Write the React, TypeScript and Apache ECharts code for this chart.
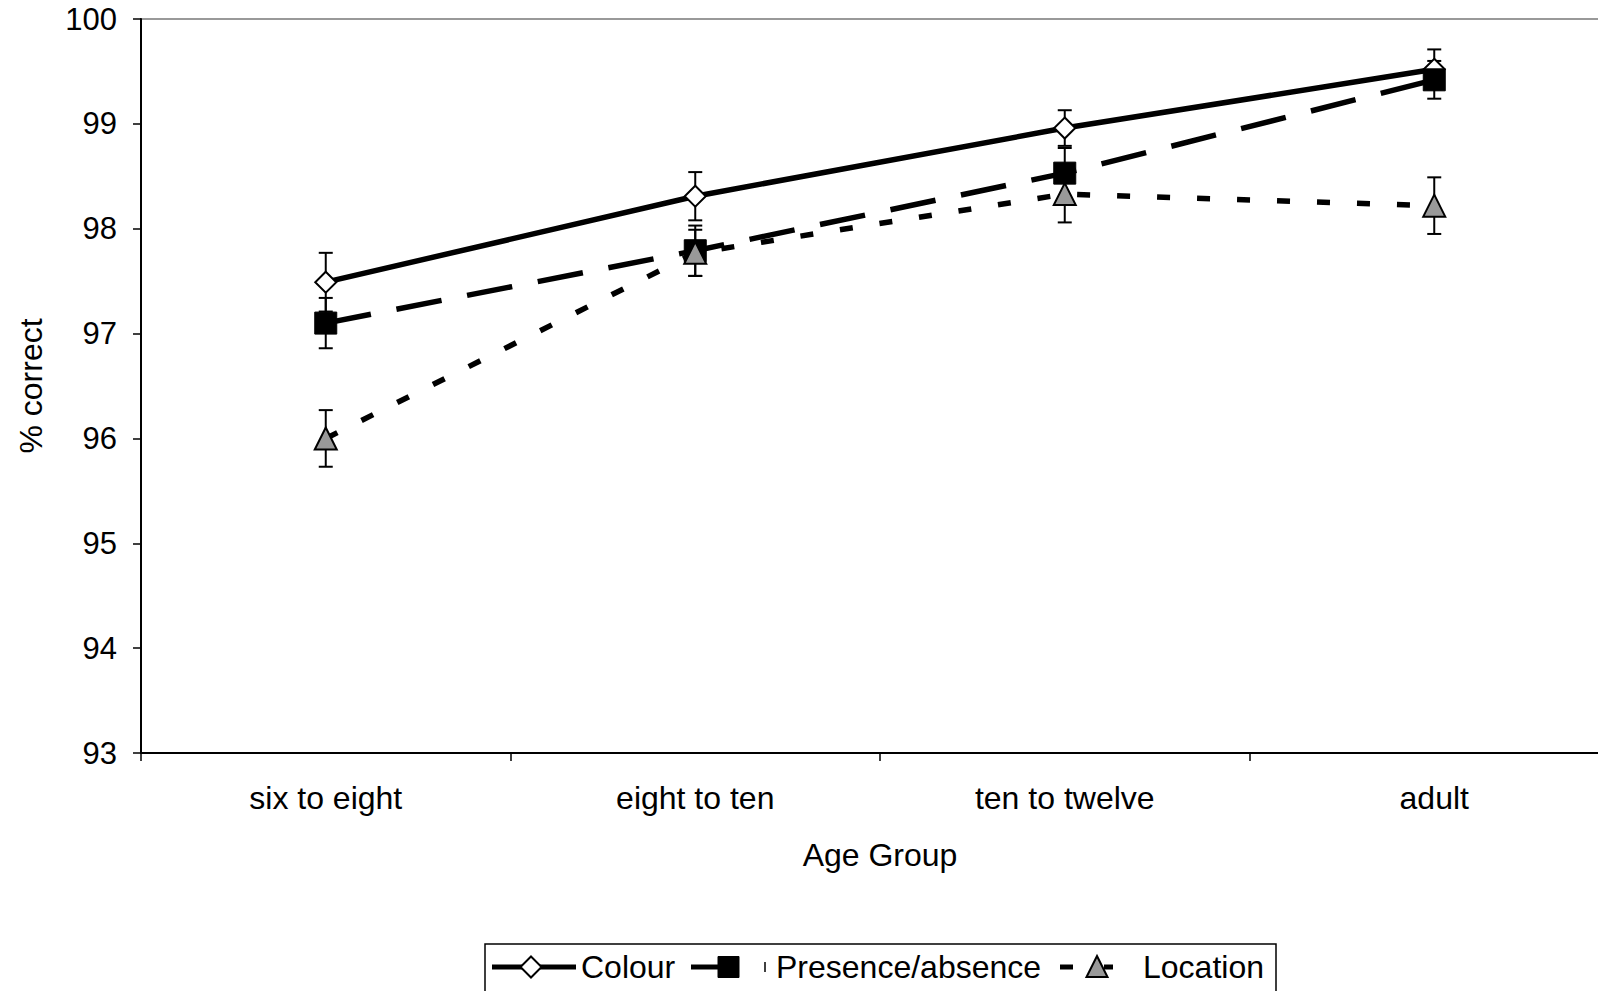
import React, { useEffect, useRef } from "react";
import * as echarts from "echarts";

const categories = ["six to eight", "eight to ten", "ten to twelve", "adult"];
const colourValues = [97.49, 98.31, 98.96, 99.52];
const colourErrors = [0.28, 0.23, 0.17, 0.19];
const presenceValues = [97.1, 97.79, 98.53, 99.42];
const presenceErrors = [0.24, 0.24, 0.24, 0.18];
const locationValues = [96.0, 97.77, 98.33, 98.22];
const locationErrors = [0.27, 0.22, 0.27, 0.27];
const yMin = 93;
const yMax = 100;
const yStep = 1;
const legendNames = ["Colour", "Presence/absence", "Location"];

const FONT = "'Liberation Sans', Arial, sans-serif";

function errorSeries(name: string, values: number[], errors: number[]) {
  return {
    type: "custom",
    name: name + " error",
    z: 1,
    silent: true,
    data: values.map((v, i) => [i, v - errors[i], v + errors[i]]),
    encode: { x: 0, y: [1, 2] },
    renderItem: (params: any, api: any) => {
      const x = api.value(0);
      const lo = api.coord([x, api.value(1)]);
      const hi = api.coord([x, api.value(2)]);
      const half = 7;
      const style = { stroke: "#000", lineWidth: 2, fill: "none" };
      return {
        type: "group",
        children: [
          { type: "line", shape: { x1: lo[0], y1: lo[1], x2: hi[0], y2: hi[1] }, style },
          { type: "line", shape: { x1: lo[0] - half, y1: lo[1], x2: lo[0] + half, y2: lo[1] }, style },
          { type: "line", shape: { x1: hi[0] - half, y1: hi[1], x2: hi[0] + half, y2: hi[1] }, style },
        ],
      };
    },
  };
}

function legendGraphics() {
  const cy = 967;
  const textStyle = (x: number, t: string) => ({
    type: "text",
    x,
    y: cy,
    style: { text: t, font: `32px ${FONT}`, fill: "#000", verticalAlign: "middle", align: "left" },
  });
  return [
    {
      type: "rect",
      shape: { x: 485, y: 944, width: 791, height: 60 },
      style: { fill: "#fff", stroke: "#000", lineWidth: 1.5 },
      z: 10,
    },
    { type: "line", shape: { x1: 492, y1: cy, x2: 576, y2: cy }, style: { stroke: "#000", lineWidth: 5 }, z: 11 },
    {
      type: "polygon",
      shape: { points: [[531, cy - 10.5], [541.5, cy], [531, cy + 10.5], [520.5, cy]] },
      style: { fill: "#fff", stroke: "#000", lineWidth: 2 },
      z: 12,
    },
    { ...textStyle(581, legendNames[0]), z: 12 },
    { type: "line", shape: { x1: 691, y1: cy, x2: 722, y2: cy }, style: { stroke: "#000", lineWidth: 5 }, z: 11 },
    { type: "rect", shape: { x: 718, y: cy - 10.5, width: 21, height: 21 }, style: { fill: "#000", stroke: "#000", lineWidth: 1 }, z: 12 },
    { type: "line", shape: { x1: 765, y1: cy - 5, x2: 765, y2: cy + 5 }, style: { stroke: "#000", lineWidth: 1.5 }, z: 11 },
    { ...textStyle(776, legendNames[1]), z: 12 },
    { type: "line", shape: { x1: 1060, y1: cy, x2: 1073, y2: cy }, style: { stroke: "#000", lineWidth: 5 }, z: 11 },
    { type: "line", shape: { x1: 1104, y1: cy, x2: 1113, y2: cy }, style: { stroke: "#000", lineWidth: 5 }, z: 11 },
    {
      type: "polygon",
      shape: { points: [[1097, cy - 11], [1107.5, cy + 10], [1086.5, cy + 10]] },
      style: { fill: "#999", stroke: "#000", lineWidth: 2 },
      z: 12,
    },
    { ...textStyle(1143, legendNames[2]), z: 12 },
  ];
}

export default function App() {
  const ref = useRef<HTMLDivElement>(null);
  useEffect(() => {
    if (!ref.current) return;
    const chart = echarts.init(ref.current, undefined, { renderer: "svg" });
    const lineCommon = {
      type: "line",
      z: 2,
      symbolKeepAspect: true,
      emphasis: { disabled: true },
    };
    chart.setOption({
      animation: false,
      backgroundColor: "#fff",
      textStyle: { fontFamily: FONT },
      grid: {
        left: 141,
        top: 19,
        width: 1478,
        height: 734,
        show: true,
        borderColor: "#999",
        borderWidth: 2,
        backgroundColor: "transparent",
      },
      xAxis: {
        type: "category",
        data: categories,
        boundaryGap: true,
        axisLine: { lineStyle: { color: "#000", width: 2 } },
        axisTick: { show: true, length: 8, alignWithLabel: false, lineStyle: { color: "#000", width: 1.5 } },
        axisLabel: { fontSize: 32, color: "#000", fontFamily: FONT, margin: 29 },
        splitLine: { show: false },
        name: "Age Group",
        nameLocation: "middle",
        nameGap: 86,
        nameTextStyle: { fontSize: 32, color: "#000", fontFamily: FONT },
      },
      yAxis: {
        type: "value",
        min: yMin,
        max: yMax,
        interval: yStep,
        axisLine: { show: true, lineStyle: { color: "#000", width: 2 } },
        axisTick: { show: true, length: 8, lineStyle: { color: "#000", width: 1.5 } },
        axisLabel: { fontSize: 31, color: "#000", fontFamily: FONT, margin: 24 },
        splitLine: { show: false },
        name: "% correct",
        nameLocation: "middle",
        nameRotate: 90,
        nameGap: 94,
        nameTextStyle: { fontSize: 32, color: "#000", fontFamily: FONT },
      },
      series: [
        errorSeries("Colour", colourValues, colourErrors),
        errorSeries("Presence/absence", presenceValues, presenceErrors),
        errorSeries("Location", locationValues, locationErrors),
        {
          ...lineCommon,
          name: legendNames[0],
          data: colourValues,
          symbol: "diamond",
          symbolSize: 21,
          lineStyle: { color: "#000", width: 5.5, type: "solid" },
          itemStyle: { color: "#fff", borderColor: "#000", borderWidth: 2 },
        },
        {
          ...lineCommon,
          name: legendNames[1],
          data: presenceValues,
          symbol: "rect",
          symbolSize: 22,
          lineStyle: { color: "#000", width: 5.5, type: [46, 26] },
          itemStyle: { color: "#000", borderColor: "#000", borderWidth: 1 },
        },
        {
          ...lineCommon,
          name: legendNames[2],
          data: locationValues,
          symbol: "triangle",
          symbolSize: 22,
          lineStyle: { color: "#000", width: 5.5, type: [13, 27] },
          itemStyle: { color: "#999", borderColor: "#000", borderWidth: 2 },
        },
      ],
      graphic: legendGraphics(),
    });
    return () => chart.dispose();
  }, []);
  return (
    <div
      style={{ position: "absolute", left: 0, top: 0, width: 1598, height: 991, overflow: "hidden", background: "#fff" }}
    >
      <div ref={ref} style={{ width: 1650, height: 991 }} />
    </div>
  );
}
